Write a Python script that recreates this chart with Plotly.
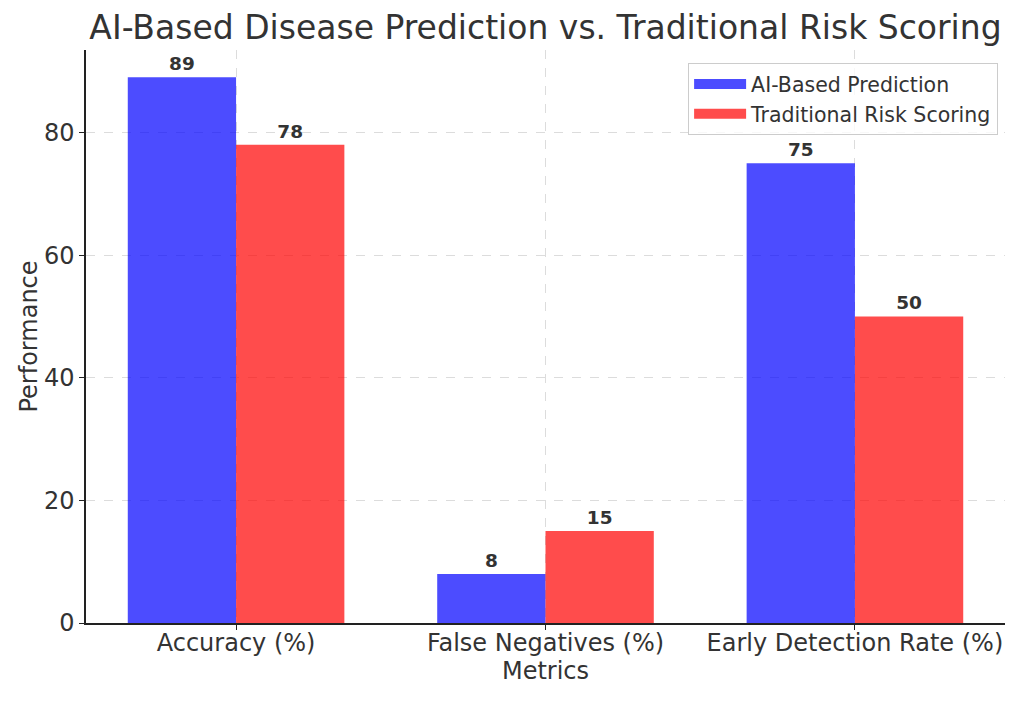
import plotly.graph_objects as go

categories = ["Accuracy (%)", "False Negatives (%)", "Early Detection Rate (%)"]
ai_values = [89, 8, 75]
trad_values = [78, 15, 50]
series_names = ["AI-Based Prediction", "Traditional Risk Scoring"]
y_ticks = [0, 20, 40, 60, 80]

x_idx = list(range(len(categories)))
w = 0.35
font_family = "DejaVu Sans"
txt_color = "#333333"
colors = ["rgba(0,0,255,0.7)", "rgba(255,0,0,0.7)"]

fig = go.Figure()
fig.add_trace(go.Bar(
    x=[i - w / 2 for i in x_idx], y=ai_values, width=w, name=series_names[0],
    marker=dict(color=colors[0], line=dict(width=0)),
    text=[str(v) for v in ai_values], textposition="outside",
    textfont=dict(family=font_family, size=18.5, color=txt_color, weight="bold"),
    cliponaxis=False, showlegend=False,
))
fig.add_trace(go.Bar(
    x=[i + w / 2 for i in x_idx], y=trad_values, width=w, name=series_names[1],
    marker=dict(color=colors[1], line=dict(width=0)),
    text=[str(v) for v in trad_values], textposition="outside",
    textfont=dict(family=font_family, size=18.5, color=txt_color, weight="bold"),
    cliponaxis=False, showlegend=False,
))
# legend swatches (wide rectangles like the reference)
for name, c in zip(series_names, colors):
    fig.add_trace(go.Scatter(x=[None], y=[None], mode="lines", name=name,
                             line=dict(color=c, width=14), showlegend=True))

fig.update_layout(
    width=1015, height=694,
    margin=dict(l=78, r=18, t=42, b=79),
    paper_bgcolor="white", plot_bgcolor="white",
    font=dict(family=font_family, color=txt_color, size=24),
    title=dict(text="AI-Based Disease Prediction vs. Traditional Risk Scoring",
               x=0.5, xanchor="center", xref="paper",
               y=1 - 19 / 694, yanchor="middle", yref="container",
               font=dict(size=33, color=txt_color)),
    barmode="overlay",
    showlegend=True,
    legend=dict(x=0.9925, y=0.977, xanchor="right", yanchor="top",
                bgcolor="rgba(255,255,255,0.8)", bordercolor="#cccccc", borderwidth=1,
                font=dict(size=20.5, color=txt_color), tracegroupgap=2,
                itemwidth=52),
    xaxis=dict(
        range=[-0.485, 2.485], tickmode="array", tickvals=x_idx, ticktext=categories,
        showline=True, linecolor="#222222", linewidth=1.5,
        ticks="outside", ticklen=5, tickcolor="#222222",
        showgrid=True, gridcolor="#dcdcdc", griddash="dash", gridwidth=1,
        zeroline=False, automargin=False, ticklabelstandoff=-8,
        title=dict(text="Metrics", font=dict(size=24), standoff=2),
        tickfont=dict(size=24),
    ),
    yaxis=dict(
        range=[0, 93.45], tickmode="array", tickvals=y_ticks,
        showline=True, linecolor="#222222", linewidth=1.5,
        ticks="outside", ticklen=5, tickcolor="#222222",
        showgrid=True, gridcolor="#dcdcdc", griddash="dash", gridwidth=1,
        zeroline=False, automargin=False,
        title=dict(text="Performance", font=dict(size=24), standoff=0),
        tickfont=dict(size=24),
    ),
)

fig.write_html("out.html")
